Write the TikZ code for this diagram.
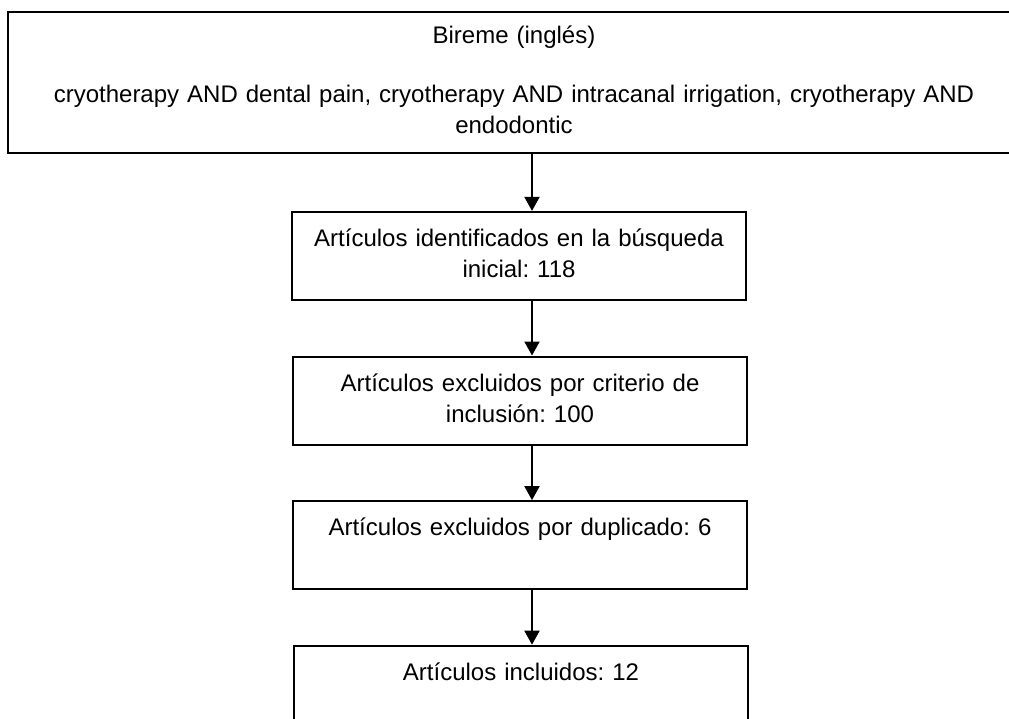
\documentclass[tikz,border=0pt]{standalone}
\usepackage{fontspec}
\setmainfont{Liberation Sans}
\usepackage{tikz}
\usetikzlibrary{positioning,arrows.meta}
\frenchspacing

\begin{document}
\begin{tikzpicture}[
     x = 0.5pt, y = -0.5pt, % one unit per pixel, y runs downwards
     > = {Triangle[length=7pt,width=7.5pt]}, % arrow head style
     line width = 1pt, % line style
     node distance = 27.3pt, % gap between boxes
     font = \fontsize{12}{15.5}\selectfont
 ]

 \tikzstyle{stepbox}=[
     draw = black,
     fill = white,
     align = center,
     inner xsep = 4pt,
     inner ysep = 0pt,
     text width = 219pt,
     minimum height = 44pt,
     execute at begin node = \strut,
     execute at end node = \strut
 ]
 \tikzstyle{searchbox} = [
     stepbox,
     text width = 497.85pt,
     minimum height = 70.5pt]

 \clip (0,0) rectangle (1009,719);

 \node[searchbox] (bireme) at (514,82.2) {Bireme (inglés)\\[13.7pt]
   cryotherapy AND dental pain, cryotherapy AND intracanal irrigation, cryotherapy AND\\
   endodontic};
 \node[stepbox] (ident) [below=28.6pt of bireme, xshift=2.5pt] {Artículos identificados en la búsqueda\\ inicial: 118};
 \node[stepbox] (crit) [below=of ident, xshift=0.5pt] {Artículos excluidos por criterio de\\ inclusión: 100};
 \node[stepbox] (dup) [below=of crit] {Artículos excluidos por duplicado: 6\\ \strut};
 \node[stepbox] (incl) [below=of dup, xshift=0.5pt] {Artículos incluidos: 12\\ \strut};

 \coordinate (axis) at (532,0);

 \path[->] (bireme.south -| axis) edge (ident.north -| axis);
 \path[->] (ident.south -| axis) edge (crit.north -| axis);
 \path[->] (crit.south -| axis) edge (dup.north -| axis);
 \path[->] (dup.south -| axis) edge (incl.north -| axis);
\end{tikzpicture}
\end{document}
